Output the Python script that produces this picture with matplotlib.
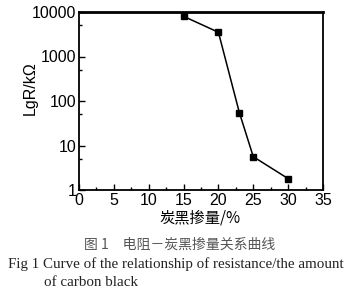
import matplotlib.pyplot as plt
from matplotlib.ticker import FixedLocator, NullFormatter

# carbon black content (%) vs resistance (kOhm)
carbon = [15, 20, 23, 25, 30]
resist = [8000, 3500, 55, 5.6, 1.8]
yticks = [1, 10, 100, 1000, 10000]
ytick_labels = ['1', '10', '100', '1000', '10000']
xticks = [0, 5, 10, 15, 20, 25, 30, 35]

plt.rcParams['font.family'] = ['Liberation Sans', 'Noto Sans CJK SC']

fig = plt.figure(figsize=(3.57, 2.98), dpi=100)
ax = fig.add_axes([79/357, 1 - 190/298, (323-79)/357, (190-12)/298])

ax.plot(carbon, resist, color='black', lw=1.1, marker='s', ms=4)
ax.set_yscale('log')
ax.set_xlim(0, 35)
ax.set_ylim(1, 10000)
ax.set_xticks(xticks)
ax.set_xticklabels([str(t) for t in xticks])
ax.xaxis.set_minor_locator(FixedLocator([2.5 + 5*i for i in range(7)]))
ax.set_yticks(yticks)
ax.set_yticklabels(ytick_labels)
ax.yaxis.set_minor_locator(FixedLocator([5, 50, 500, 5000]))
ax.yaxis.set_minor_formatter(NullFormatter())

ax.tick_params(which='major', direction='in', length=4, width=1, labelsize=11.5, pad=2)
ax.tick_params(which='minor', direction='in', length=2, width=1)
for s in ['left', 'bottom', 'right']:
    ax.spines[s].set_linewidth(1.3)
ax.spines['top'].set_linewidth(2)

ax.set_xlabel('炭黑掺量/%', fontsize=11, family=['Noto Sans CJK SC', 'Liberation Sans'])
ax.xaxis.set_label_coords(0.496, -0.11)
ax.set_ylabel('LgR/kΩ', fontsize=11.5)
ax.yaxis.set_label_coords(-0.168, 0.57)

fig.text(180/357, 1 - 245/298, '图 1　电阻－炭黑掺量关系曲线', ha='center', va='center',
         fontsize=10, color='#555555', family=['Noto Sans CJK SC'], fontweight='light')
fig.text(8/357, 1 - 264/298, 'Fig 1 Curve of the relationship of resistance/the amount',
         ha='left', va='center', fontsize=10.8, family='Liberation Serif', color='#222222')
fig.text(44/357, 1 - 282/298, 'of carbon black', ha='left', va='center',
         fontsize=10.8, family='Liberation Serif', color='#222222')

plt.savefig('out.png', dpi=100)
